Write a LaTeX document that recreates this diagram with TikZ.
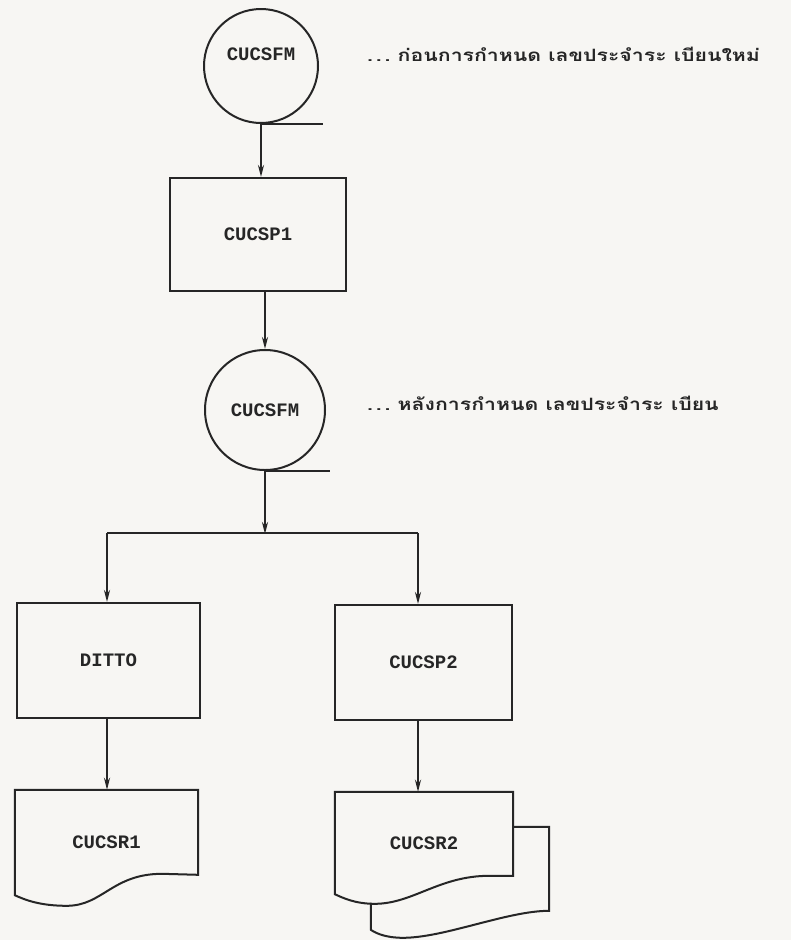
\documentclass[tikz,border=0pt]{standalone}
\usepackage{fontspec}
\setmonofont{Liberation Mono}
\newfontfamily\thaifont[Script=Thai, FakeStretch=1.25]{Loma}
\usetikzlibrary{arrows.meta,calc}

\definecolor{ink}{HTML}{262626}
\definecolor{paper}{HTML}{F7F6F3}

\tikzset{
  line/.style={line width=2pt, draw=ink},
  arr/.style={line, -{Stealth[length=12pt,width=6pt]}},
  tag/.style={font=\ttfamily\bfseries\fontsize{19}{19}\selectfont, text=ink},
  proc/.style={rectangle, line, inner sep=0pt, tag},
  store/.style={circle, line, inner sep=0pt, tag},
  docbox/.style={rectangle, inner sep=0pt, tag},
  note/.style={anchor=west, inner sep=0pt, text=ink,
    font=\thaifont\bfseries\fontsize{17}{20}\selectfont}
}

\begin{document}
\begin{tikzpicture}[x=1pt, y=-1pt]
  \path[use as bounding box, fill=paper] (0,0) rectangle (791,940);

  % master file before numbering
  \node[store, minimum size=114pt] (f1) at (261,66) {};
  \node[tag] (f1t) at (261,54) {CUCSFM};
  \draw[line] (f1.south) -- ++(62,0) coordinate (f1tail);
  \node[note] (n1) at (367,54) {.\,.\,.\ ก่อนการกำหนด เลขประจำระ เบียนใหม่};

  % numbering program
  \node[proc, minimum width=176pt, minimum height=113pt] (p1) at (258,234.5) {CUCSP1};

  % master file after numbering
  \node[store, minimum size=120pt] (f2) at (265,410) {CUCSFM};
  \draw[line] (f2.south) -- ++(65,0) coordinate (f2tail);
  \node[note] (n2) at (367,403) {.\,.\,.\ หลังการกำหนด เลขประจำระ เบียน};

  % second level programs
  \node[proc, minimum width=183pt, minimum height=115pt] (d1) at (108.5,660.5) {DITTO};
  \node[proc, minimum width=177pt, minimum height=115pt] (p2) at (423.5,662.5) {CUCSP2};

  % reports
  \node[docbox, minimum width=183pt, minimum height=105pt] (r1) at (106.5,842.5) {CUCSR1};
  \node[docbox, minimum width=178pt, minimum height=102pt] (r2) at (424,843) {CUCSR2};

  % single report
  \draw[line, line join=miter]
    (r1.north west) -- (r1.north east) -- ($(r1.north east)+(0,85)$)
    -- ($(r1.north east)+(-36,84)$)
    .. controls ($(r1.north east)+(-86,84)$) and ($(r1.north west)+(88,116)$)
    .. ($(r1.north west)+(52,116)$)
    .. controls ($(r1.north west)+(25,116)$) and ($(r1.north west)+(10,110)$)
    .. (r1.south west) -- cycle;

  % multi-part report: back sheet, then front sheet
  \draw[line, line join=miter]
    ($(r2.north east)+(0,35)$) -- ($(r2.north east)+(36,35)$)
    -- ($(r2.north east)+(36,119)$)
    .. controls ($(r2.north east)+(-6,119)$) and ($(r2.north west)+(110,146)$)
    .. ($(r2.north west)+(68,146)$)
    .. controls ($(r2.north west)+(52,146)$) and ($(r2.north west)+(42,142)$)
    .. ($(r2.north west)+(36,138)$) -- ($(r2.north west)+(36,111)$);
  \draw[line, line join=miter]
    (r2.north west) -- (r2.north east) -- ($(r2.north east)+(0,84)$)
    -- ($(r2.north east)+(-24,84)$)
    .. controls ($(r2.north east)+(-74,84)$) and ($(r2.north west)+(78,112)$)
    .. ($(r2.north west)+(40,112)$)
    .. controls ($(r2.north west)+(20,112)$) and ($(r2.north west)+(8,106)$)
    .. (r2.south west) -- cycle;

  % flow
  \draw[arr] (f1.south) -- (f1.south |- p1.north);
  \draw[arr] (f2.north |- p1.south) -- (f2.north);
  \coordinate (j) at ($(f2.south)+(0,63)$);
  \coordinate (jl) at (107,533);
  \coordinate (jr) at (418,533);
  \draw[arr] (f2.south) -- (j);
  \draw[line] (jl) -- (jr);
  \draw[arr] (jl) -- (jl |- d1.north);
  \draw[arr] (jr) -- (jr |- p2.north);
  \draw[arr] (jl |- d1.south) -- (jl |- r1.north);
  \draw[arr] (jr |- p2.south) -- (jr |- r2.north);
\end{tikzpicture}
\end{document}
